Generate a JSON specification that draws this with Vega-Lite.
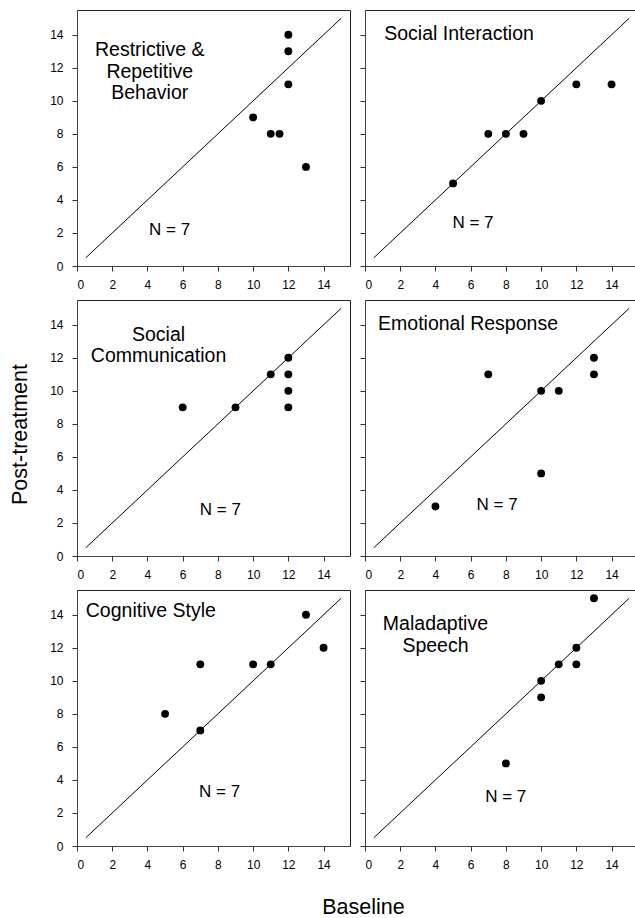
{
  "$schema": "https://vega.github.io/schema/vega-lite/v6.json",
  "padding": {"left": 8, "top": 9, "right": 0, "bottom": 0},
  "background": "white",
  "bounds": "flush",
  "columns": 2,
  "spacing": {"row": 34, "column": 15},
  "datasets": {
    "diag": [{"x": 0.5, "y": 0.5, "x2": 15, "y2": 15}],
    "pts": [
      {"panel": "Restrictive & Repetitive Behavior", "x": 12, "y": 14},
      {"panel": "Restrictive & Repetitive Behavior", "x": 12, "y": 13},
      {"panel": "Restrictive & Repetitive Behavior", "x": 12, "y": 11},
      {"panel": "Restrictive & Repetitive Behavior", "x": 10, "y": 9},
      {"panel": "Restrictive & Repetitive Behavior", "x": 11, "y": 8},
      {"panel": "Restrictive & Repetitive Behavior", "x": 11.5, "y": 8},
      {"panel": "Restrictive & Repetitive Behavior", "x": 13, "y": 6},
      {"panel": "Social Interaction", "x": 5, "y": 5},
      {"panel": "Social Interaction", "x": 7, "y": 8},
      {"panel": "Social Interaction", "x": 8, "y": 8},
      {"panel": "Social Interaction", "x": 9, "y": 8},
      {"panel": "Social Interaction", "x": 10, "y": 10},
      {"panel": "Social Interaction", "x": 12, "y": 11},
      {"panel": "Social Interaction", "x": 14, "y": 11},
      {"panel": "Social Communication", "x": 6, "y": 9},
      {"panel": "Social Communication", "x": 9, "y": 9},
      {"panel": "Social Communication", "x": 11, "y": 11},
      {"panel": "Social Communication", "x": 12, "y": 12},
      {"panel": "Social Communication", "x": 12, "y": 11},
      {"panel": "Social Communication", "x": 12, "y": 10},
      {"panel": "Social Communication", "x": 12, "y": 9},
      {"panel": "Emotional Response", "x": 4, "y": 3},
      {"panel": "Emotional Response", "x": 7, "y": 11},
      {"panel": "Emotional Response", "x": 10, "y": 10},
      {"panel": "Emotional Response", "x": 11, "y": 10},
      {"panel": "Emotional Response", "x": 13, "y": 12},
      {"panel": "Emotional Response", "x": 13, "y": 11},
      {"panel": "Emotional Response", "x": 10, "y": 5},
      {"panel": "Cognitive Style", "x": 5, "y": 8},
      {"panel": "Cognitive Style", "x": 7, "y": 11},
      {"panel": "Cognitive Style", "x": 7, "y": 7},
      {"panel": "Cognitive Style", "x": 10, "y": 11},
      {"panel": "Cognitive Style", "x": 11, "y": 11},
      {"panel": "Cognitive Style", "x": 13, "y": 14},
      {"panel": "Cognitive Style", "x": 14, "y": 12},
      {"panel": "Maladaptive Speech", "x": 8, "y": 5},
      {"panel": "Maladaptive Speech", "x": 10, "y": 10},
      {"panel": "Maladaptive Speech", "x": 10, "y": 9},
      {"panel": "Maladaptive Speech", "x": 11, "y": 11},
      {"panel": "Maladaptive Speech", "x": 12, "y": 12},
      {"panel": "Maladaptive Speech", "x": 12, "y": 11},
      {"panel": "Maladaptive Speech", "x": 13, "y": 15}
    ],
    "notes": [
      {"panel": "Restrictive & Repetitive Behavior", "kind": "title", "x": 4.13, "y": 13.06, "label": "Restrictive &\nRepetitive\nBehavior"},
      {"panel": "Restrictive & Repetitive Behavior", "kind": "n", "x": 5.26, "y": 2.16, "label": "N = 7"},
      {"panel": "Social Interaction", "kind": "title", "x": 5.34, "y": 14.06, "label": "Social Interaction"},
      {"panel": "Social Interaction", "kind": "n", "x": 6.13, "y": 2.62, "label": "N = 7"},
      {"panel": "Social Communication", "kind": "title", "x": 4.63, "y": 13.39, "label": "Social\nCommunication"},
      {"panel": "Social Communication", "kind": "n", "x": 8.14, "y": 2.77, "label": "N = 7"},
      {"panel": "Emotional Response", "kind": "title", "x": 5.85, "y": 14.03, "label": "Emotional Response"},
      {"panel": "Emotional Response", "kind": "n", "x": 7.5, "y": 3.09, "label": "N = 7"},
      {"panel": "Cognitive Style", "kind": "title", "x": 4.19, "y": 14.23, "label": "Cognitive Style"},
      {"panel": "Cognitive Style", "kind": "n", "x": 8.1, "y": 3.29, "label": "N = 7"},
      {"panel": "Maladaptive Speech", "kind": "title", "x": 4.0, "y": 13.42, "label": "Maladaptive\nSpeech"},
      {"panel": "Maladaptive Speech", "kind": "n", "x": 7.99, "y": 2.97, "label": "N = 7"}
    ]
  },
  "concat": [
    {
      "width": 273, "height": 256,
      "encoding": {
        "x": {"field": "x", "type": "quantitative", "scale": {"domain": [0, 15.5], "nice": false, "zero": false},
              "axis": {"values": [0, 2, 4, 6, 8, 10, 12, 14], "title": null}},
        "y": {"field": "y", "type": "quantitative", "scale": {"domain": [0, 15.5], "nice": false, "zero": false},
              "axis": {"values": [0, 2, 4, 6, 8, 10, 12, 14], "title": null}}
      },
      "layer": [
        {"data": {"name": "diag"}, "mark": {"type": "rule", "color": "#000", "strokeWidth": 1}, "encoding": {"x2": {"field": "x2"}, "y2": {"field": "y2"}}},
        {"data": {"name": "pts"}, "transform": [{"filter": "datum.panel === 'Restrictive & Repetitive Behavior'"}], "mark": {"type": "circle", "color": "#000", "opacity": 1, "size": 62}},
        {"data": {"name": "notes"}, "transform": [{"filter": "datum.panel === 'Restrictive & Repetitive Behavior' && datum.kind === 'title'"}], "mark": {"type": "text", "font": "Liberation Sans", "fontSize": 19.5, "lineBreak": "\n", "lineHeight": 21.5, "align": "center", "baseline": "middle", "color": "#000"}, "encoding": {"text": {"field": "label"}}},
        {"data": {"name": "notes"}, "transform": [{"filter": "datum.panel === 'Restrictive & Repetitive Behavior' && datum.kind === 'n'"}], "mark": {"type": "text", "font": "Liberation Sans", "fontSize": 17, "align": "center", "baseline": "middle", "color": "#000"}, "encoding": {"text": {"field": "label"}}}
      ]
    },
    {
      "width": 273, "height": 256,
      "encoding": {
        "x": {"field": "x", "type": "quantitative", "scale": {"domain": [0, 15.5], "nice": false, "zero": false},
              "axis": {"values": [0, 2, 4, 6, 8, 10, 12, 14], "title": null}},
        "y": {"field": "y", "type": "quantitative", "scale": {"domain": [0, 15.5], "nice": false, "zero": false},
              "axis": {"values": [0, 2, 4, 6, 8, 10, 12, 14], "title": null, "labels": false}}
      },
      "layer": [
        {"data": {"name": "diag"}, "mark": {"type": "rule", "color": "#000", "strokeWidth": 1}, "encoding": {"x2": {"field": "x2"}, "y2": {"field": "y2"}}},
        {"data": {"name": "pts"}, "transform": [{"filter": "datum.panel === 'Social Interaction'"}], "mark": {"type": "circle", "color": "#000", "opacity": 1, "size": 62}},
        {"data": {"name": "notes"}, "transform": [{"filter": "datum.panel === 'Social Interaction' && datum.kind === 'title'"}], "mark": {"type": "text", "font": "Liberation Sans", "fontSize": 19.5, "lineBreak": "\n", "lineHeight": 21.5, "align": "center", "baseline": "middle", "color": "#000"}, "encoding": {"text": {"field": "label"}}},
        {"data": {"name": "notes"}, "transform": [{"filter": "datum.panel === 'Social Interaction' && datum.kind === 'n'"}], "mark": {"type": "text", "font": "Liberation Sans", "fontSize": 17, "align": "center", "baseline": "middle", "color": "#000"}, "encoding": {"text": {"field": "label"}}}
      ]
    },
    {
      "width": 273, "height": 256,
      "encoding": {
        "x": {"field": "x", "type": "quantitative", "scale": {"domain": [0, 15.5], "nice": false, "zero": false},
              "axis": {"values": [0, 2, 4, 6, 8, 10, 12, 14], "title": null}},
        "y": {"field": "y", "type": "quantitative", "scale": {"domain": [0, 15.5], "nice": false, "zero": false},
              "axis": {"values": [0, 2, 4, 6, 8, 10, 12, 14], "title": "Post-treatment", "titleX": -51, "titleY": 134, "titleBaseline": "alphabetic", "titleFontSize": 21.5, "titleFontWeight": "normal", "titleFont": "Liberation Sans", "titleColor": "#000"}}
      },
      "layer": [
        {"data": {"name": "diag"}, "mark": {"type": "rule", "color": "#000", "strokeWidth": 1}, "encoding": {"x2": {"field": "x2"}, "y2": {"field": "y2"}}},
        {"data": {"name": "pts"}, "transform": [{"filter": "datum.panel === 'Social Communication'"}], "mark": {"type": "circle", "color": "#000", "opacity": 1, "size": 62}},
        {"data": {"name": "notes"}, "transform": [{"filter": "datum.panel === 'Social Communication' && datum.kind === 'title'"}], "mark": {"type": "text", "font": "Liberation Sans", "fontSize": 19.5, "lineBreak": "\n", "lineHeight": 21.5, "align": "center", "baseline": "middle", "color": "#000"}, "encoding": {"text": {"field": "label"}}},
        {"data": {"name": "notes"}, "transform": [{"filter": "datum.panel === 'Social Communication' && datum.kind === 'n'"}], "mark": {"type": "text", "font": "Liberation Sans", "fontSize": 17, "align": "center", "baseline": "middle", "color": "#000"}, "encoding": {"text": {"field": "label"}}}
      ]
    },
    {
      "width": 273, "height": 256,
      "encoding": {
        "x": {"field": "x", "type": "quantitative", "scale": {"domain": [0, 15.5], "nice": false, "zero": false},
              "axis": {"values": [0, 2, 4, 6, 8, 10, 12, 14], "title": null}},
        "y": {"field": "y", "type": "quantitative", "scale": {"domain": [0, 15.5], "nice": false, "zero": false},
              "axis": {"values": [0, 2, 4, 6, 8, 10, 12, 14], "title": null, "labels": false}}
      },
      "layer": [
        {"data": {"name": "diag"}, "mark": {"type": "rule", "color": "#000", "strokeWidth": 1}, "encoding": {"x2": {"field": "x2"}, "y2": {"field": "y2"}}},
        {"data": {"name": "pts"}, "transform": [{"filter": "datum.panel === 'Emotional Response'"}], "mark": {"type": "circle", "color": "#000", "opacity": 1, "size": 62}},
        {"data": {"name": "notes"}, "transform": [{"filter": "datum.panel === 'Emotional Response' && datum.kind === 'title'"}], "mark": {"type": "text", "font": "Liberation Sans", "fontSize": 19.5, "lineBreak": "\n", "lineHeight": 21.5, "align": "center", "baseline": "middle", "color": "#000"}, "encoding": {"text": {"field": "label"}}},
        {"data": {"name": "notes"}, "transform": [{"filter": "datum.panel === 'Emotional Response' && datum.kind === 'n'"}], "mark": {"type": "text", "font": "Liberation Sans", "fontSize": 17, "align": "center", "baseline": "middle", "color": "#000"}, "encoding": {"text": {"field": "label"}}}
      ]
    },
    {
      "width": 273, "height": 256,
      "encoding": {
        "x": {"field": "x", "type": "quantitative", "scale": {"domain": [0, 15.5], "nice": false, "zero": false},
              "axis": {"values": [0, 2, 4, 6, 8, 10, 12, 14], "title": "Baseline", "titleX": 286, "titleY": 67, "titleBaseline": "alphabetic", "titleAnchor": null, "titleFontSize": 21.5, "titleFontWeight": "normal", "titleFont": "Liberation Sans", "titleColor": "#000"}},
        "y": {"field": "y", "type": "quantitative", "scale": {"domain": [0, 15.5], "nice": false, "zero": false},
              "axis": {"values": [0, 2, 4, 6, 8, 10, 12, 14], "title": null}}
      },
      "layer": [
        {"data": {"name": "diag"}, "mark": {"type": "rule", "color": "#000", "strokeWidth": 1}, "encoding": {"x2": {"field": "x2"}, "y2": {"field": "y2"}}},
        {"data": {"name": "pts"}, "transform": [{"filter": "datum.panel === 'Cognitive Style'"}], "mark": {"type": "circle", "color": "#000", "opacity": 1, "size": 62}},
        {"data": {"name": "notes"}, "transform": [{"filter": "datum.panel === 'Cognitive Style' && datum.kind === 'title'"}], "mark": {"type": "text", "font": "Liberation Sans", "fontSize": 19.5, "lineBreak": "\n", "lineHeight": 21.5, "align": "center", "baseline": "middle", "color": "#000"}, "encoding": {"text": {"field": "label"}}},
        {"data": {"name": "notes"}, "transform": [{"filter": "datum.panel === 'Cognitive Style' && datum.kind === 'n'"}], "mark": {"type": "text", "font": "Liberation Sans", "fontSize": 17, "align": "center", "baseline": "middle", "color": "#000"}, "encoding": {"text": {"field": "label"}}}
      ]
    },
    {
      "width": 273, "height": 256,
      "encoding": {
        "x": {"field": "x", "type": "quantitative", "scale": {"domain": [0, 15.5], "nice": false, "zero": false},
              "axis": {"values": [0, 2, 4, 6, 8, 10, 12, 14], "title": null}},
        "y": {"field": "y", "type": "quantitative", "scale": {"domain": [0, 15.5], "nice": false, "zero": false},
              "axis": {"values": [0, 2, 4, 6, 8, 10, 12, 14], "title": null, "labels": false}}
      },
      "layer": [
        {"data": {"name": "diag"}, "mark": {"type": "rule", "color": "#000", "strokeWidth": 1}, "encoding": {"x2": {"field": "x2"}, "y2": {"field": "y2"}}},
        {"data": {"name": "pts"}, "transform": [{"filter": "datum.panel === 'Maladaptive Speech'"}], "mark": {"type": "circle", "color": "#000", "opacity": 1, "size": 62}},
        {"data": {"name": "notes"}, "transform": [{"filter": "datum.panel === 'Maladaptive Speech' && datum.kind === 'title'"}], "mark": {"type": "text", "font": "Liberation Sans", "fontSize": 19.5, "lineBreak": "\n", "lineHeight": 21.5, "align": "center", "baseline": "middle", "color": "#000"}, "encoding": {"text": {"field": "label"}}},
        {"data": {"name": "notes"}, "transform": [{"filter": "datum.panel === 'Maladaptive Speech' && datum.kind === 'n'"}], "mark": {"type": "text", "font": "Liberation Sans", "fontSize": 17, "align": "center", "baseline": "middle", "color": "#000"}, "encoding": {"text": {"field": "label"}}}
      ]
    }
  ],
  "config": {
    "view": {"stroke": "#222", "strokeWidth": 1},
    "axis": {
      "grid": false,
      "domainColor": "#444",
      "tickColor": "#333",
      "tickSize": 5,
      "labelFont": "Liberation Sans",
      "labelFontSize": 12,
      "labelColor": "#000",
      "labelPadding": 8
    },
    "axisX": {"labelPadding": 8},
    "axisY": {"labelPadding": 9}
  }
}
